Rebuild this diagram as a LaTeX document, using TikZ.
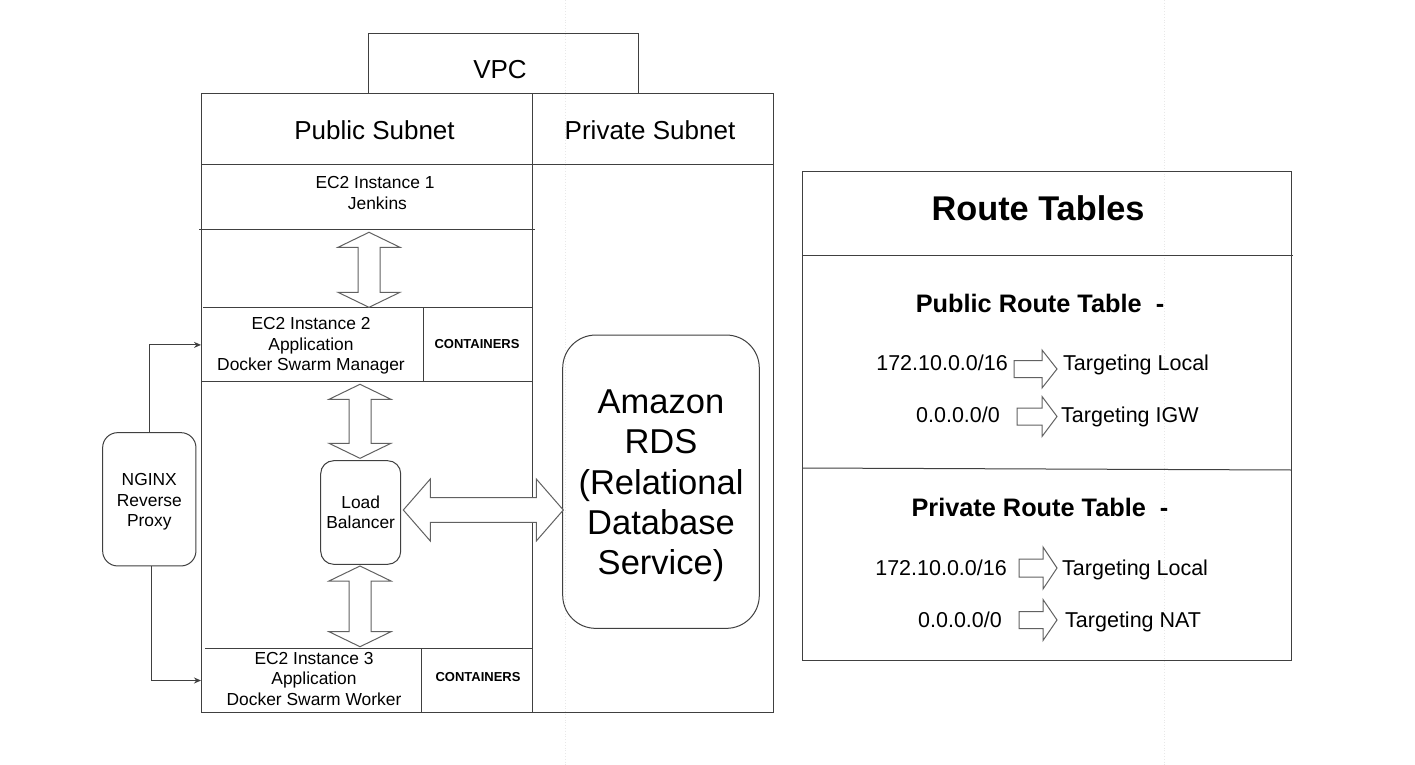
\documentclass[tikz,border=0pt]{standalone}
\usepackage{fontspec}
\setmainfont{Liberation Sans}
\usetikzlibrary{arrows.meta}
\newcommand{\vdarrow}[6]{\draw[barrow] (#1,#2) -- (#1+#4,#2+#6) -- (#1+#5,#2+#6) -- (#1+#5,#3-#6) -- (#1+#4,#3-#6) -- (#1,#3) -- (#1-#4,#3-#6) -- (#1-#5,#3-#6) -- (#1-#5,#2+#6) -- (#1-#4,#2+#6) -- cycle;}
\newcommand{\hdarrow}[6]{\draw[barrow] (#1,#3) -- (#1+#6,#3-#4) -- (#1+#6,#3-#5) -- (#2-#6,#3-#5) -- (#2-#6,#3-#4) -- (#2,#3) -- (#2-#6,#3+#4) -- (#2-#6,#3+#5) -- (#1+#6,#3+#5) -- (#1+#6,#3+#4) -- cycle;}
\newcommand{\rarrow}[6]{\draw[barrow] (#1,#3-#5) -- (#2-#6,#3-#5) -- (#2-#6,#3-#4) -- (#2,#3) -- (#2-#6,#3+#4) -- (#2-#6,#3+#5) -- (#1,#3+#5) -- cycle;}
\tikzset{
  ln/.style={draw=black!75, line width=1pt},
  barrow/.style={draw=black!62, line width=1pt, fill=white, line join=miter},
  rbox/.style={draw=black!75, line width=1pt, rectangle, align=center, inner sep=0pt},
  tx/.style={inner sep=0pt, align=center},
  f17/.style={font=\fontsize{17.4}{20.5}\selectfont},
  f13b/.style={font=\fontsize{13}{15}\selectfont\bfseries},
  f26/.style={font=\fontsize{26}{30}\selectfont},
  f21/.style={font=\fontsize{21.5}{25}\selectfont},
  conn/.style={draw=black!75, line width=1pt, -{Stealth[length=7pt,width=6pt]}},
  guide/.style={draw=black!9, line width=0.8pt, dotted},
}
\begin{document}
\begin{tikzpicture}[x=1pt,y=-1pt]
\useasboundingbox (0,0) rectangle (1415,765);
\fill[white] (0,0) rectangle (1415,765);
% faint page guides
\draw[guide] (565,0) -- (565,765);
\draw[guide] (1164,0) -- (1164,765);

% VPC tab
\draw[ln] (368,94) -- (368,34) -- (638,34) -- (638,94);
\node[tx, f26, anchor=base] (vpc) at (500,78.3) {VPC};

% main frame
\draw[ln] (201,94) rectangle (773,712);
\draw[ln] (532,94) -- (532,712);
\draw[ln] (201,164) -- (773,164);
\node[tx, f26, anchor=base] (pub) at (374.5,139.3) {Public Subnet};
\node[tx, f26, anchor=base] (priv) at (650,139.3) {Private Subnet};

% EC2 instance 1
\draw[ln] (199,229.3) -- (535,229.3);
\node[tx, f17] (ec2a) at (375,193) {EC2 Instance 1\\\ Jenkins};

% EC2 instance 2
\node[inner sep=0pt, minimum width=222pt, minimum height=74pt, anchor=north west] (ec2b) at (201,307.7) {};
\draw[ln] (203,307.7) -- (532,307.7);
\draw[ln] (201,381.7) -- (532,381.7);
\draw[ln] (423,307.7) -- (423,381.7);
\node[tx, f17] (ec2btext) at (311,346) {EC2 Instance 2\\Application\\Docker Swarm Manager};
\node[tx, f13b, anchor=base] (contb) at (477,348.7) {CONTAINERS};

% EC2 instance 3
\node[inner sep=0pt, minimum width=220pt, minimum height=64pt, anchor=north west] (ec2c) at (201,648.3) {};
\draw[ln] (205,648.3) -- (532,648.3);
\draw[ln] (421,648.3) -- (421,712);
\node[tx, f17] (ec2ctext) at (314,679) {EC2 Instance 3\\Application\\Docker Swarm Worker};
\node[tx, f13b, anchor=base] (contc) at (478,681.7) {CONTAINERS};

% load balancer
\node[rbox, f17, minimum width=80pt, minimum height=103.6pt, rounded corners=13pt] (lb) at (360.7,512.5) {Load\\Balancer};

% NGINX
\node[rbox, minimum width=93.3pt, minimum height=133.3pt, rounded corners=15pt] (nginx) at (149.3,499.3) {};
\node[tx, f17] (nginxtext) at (149.3,501.8) {NGINX\\Reverse\\Proxy};
\draw[conn] (nginx.north) |- (ec2b.west);
\draw[conn] ([xshift=2.4pt]nginx.south) |- (ec2c.west);

% RDS
\node[rbox, minimum width=196.6pt, minimum height=293.3pt, rounded corners=33pt] (rds) at (661,481.7) {};
\node[tx, font=\fontsize{34.5}{40.2}\selectfont] (rdstext) at (661,485.7) {Amazon\\RDS\\(Relational\\Database\\Service)};

% block arrows
\vdarrow{369}{232.3}{307.3}{31}{11}{15}
\vdarrow{360}{384.3}{458.3}{31}{11}{15}
\vdarrow{360}{566}{646.7}{31}{11}{15}
\hdarrow{403.3}{563.3}{510}{31}{12.3}{27}

% route tables
\draw[ln] (802.7,171.7) rectangle (1291.7,660);
\draw[ln] (802.7,255) -- (1293,255);
\draw[ln] (802.7,468) -- (1291.7,470);
\node[tx, font=\fontsize{34.3}{40}\selectfont\bfseries, anchor=base] (rt) at (1038,220) {Route Tables};
\node[tx, font=\fontsize{25.3}{28}\selectfont\bfseries, anchor=base] (pubrt) at (1040,312.8) {Public Route Table~~-};
\node[tx, font=\fontsize{25.3}{28}\selectfont\bfseries, anchor=base] (privrt) at (1040,516.8) {Private Route Table~~-};

\node[tx, f21, anchor=base east] (pa1) at (1008,370.7) {172.10.0.0/16};
\rarrow{1014}{1057}{369}{19}{8.5}{15}
\node[tx, f21, anchor=base west] (pt1) at (1063,370.7) {Targeting Local};
\node[tx, f21, anchor=base] (pa2) at (958,422.7) {0.0.0.0/0};
\rarrow{1017}{1057}{416.5}{20}{8.5}{15}
\node[tx, f21, anchor=base west] (pt2) at (1061,422.7) {Targeting IGW};

\node[tx, f21, anchor=base east] (qa1) at (1007,575.7) {172.10.0.0/16};
\rarrow{1019}{1057}{568}{21}{9}{14}
\node[tx, f21, anchor=base west] (qt1) at (1062,575.7) {Targeting Local};
\node[tx, f21, anchor=base] (qa2) at (960,627.7) {0.0.0.0/0};
\rarrow{1019}{1057}{620}{20.5}{8.5}{14}
\node[tx, f21, anchor=base west] (qt2) at (1065,627.7) {Targeting NAT};
\end{tikzpicture}
\end{document}
